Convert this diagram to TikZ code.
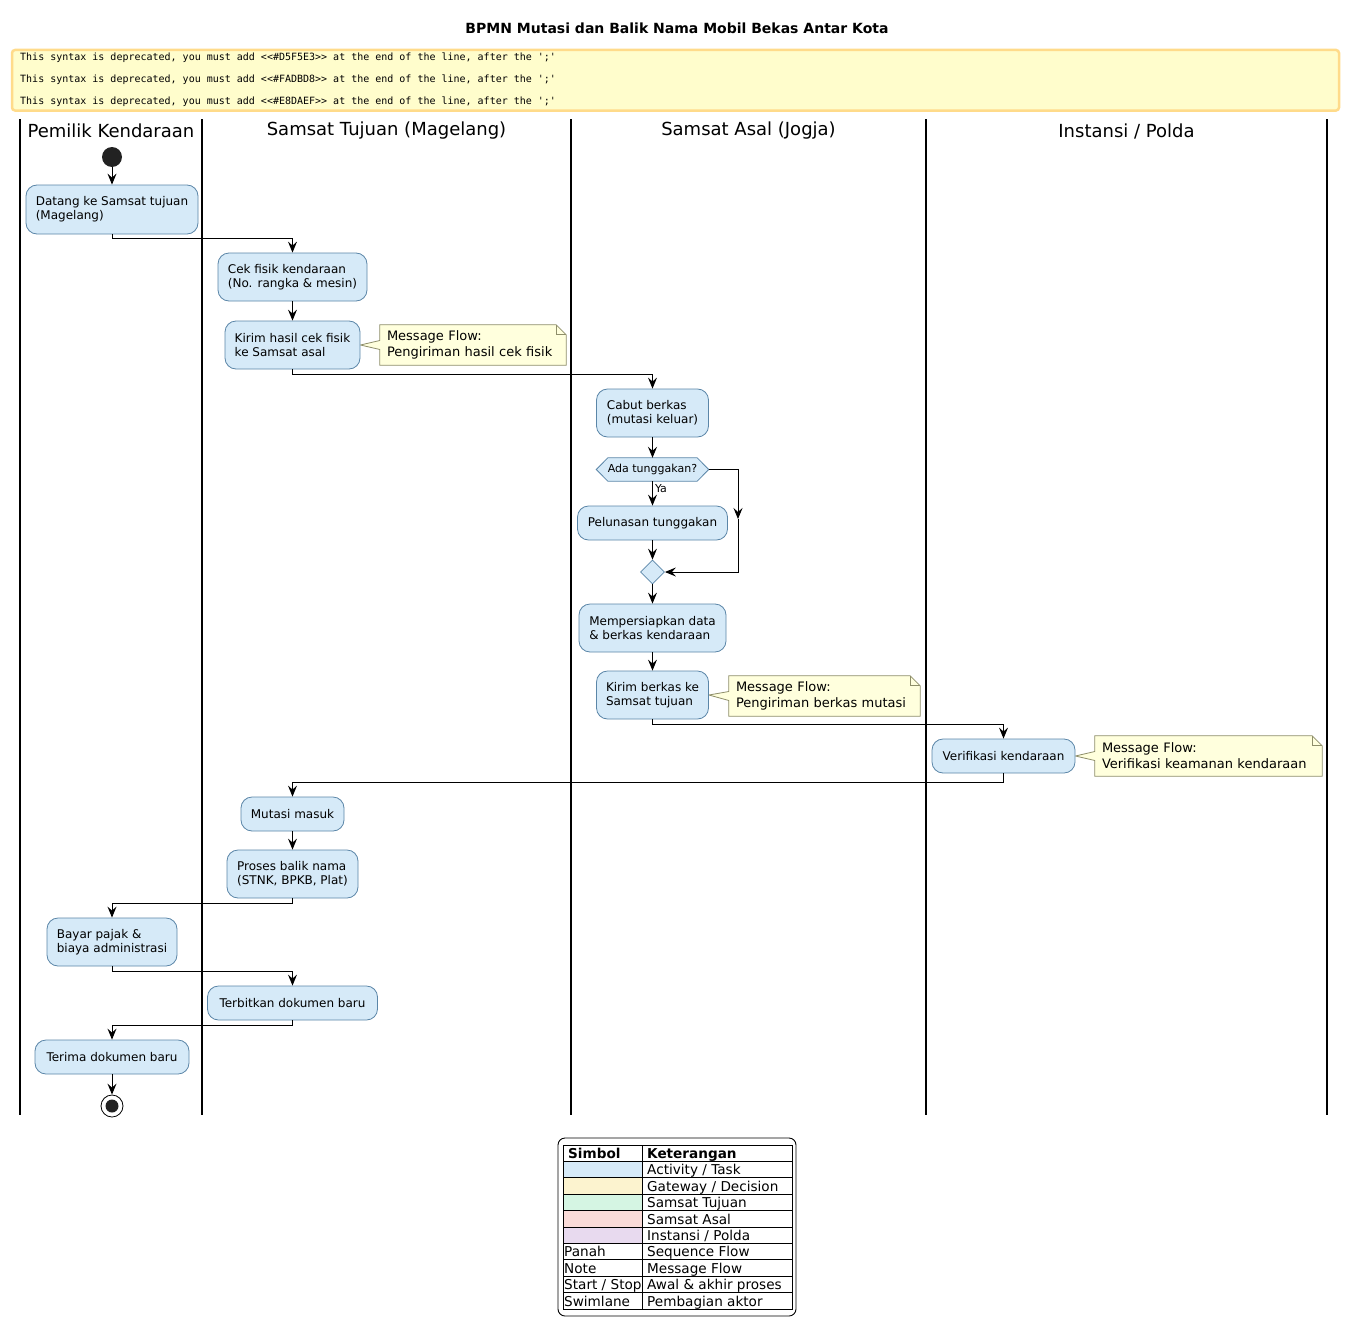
\documentclass[tikz,border=0pt]{standalone}
\usepackage{fontspec}
\setmainfont{DejaVu Sans}
\setmonofont{DejaVu Sans Mono}
\usetikzlibrary{shapes.geometric,arrows.meta,calc,backgrounds}
\definecolor{actfill}{HTML}{D6EAF8}
\definecolor{actdraw}{HTML}{5B86A8}
\definecolor{notefill}{HTML}{FFFFDD}
\definecolor{notedraw}{HTML}{8E8E6A}
\definecolor{warnfill}{HTML}{FFFDCC}
\definecolor{warndraw}{HTML}{FFDB8A}
\definecolor{legA}{HTML}{D6EAF8}
\definecolor{legB}{HTML}{FCF3CF}
\definecolor{legC}{HTML}{D5F5E3}
\definecolor{legD}{HTML}{FADBD8}
\definecolor{legE}{HTML}{E8DAEF}
\definecolor{startfill}{HTML}{222222}
\tikzset{
  act/.style={draw=actdraw, fill=actfill, rounded corners=11pt, line width=0.8pt, align=left, inner sep=0pt, font=\fontsize{12}{14}\selectfont},
  notebox/.style={inner sep=0pt, align=left, font=\fontsize{13}{16}\selectfont},
  noteline/.style={draw=notedraw, fill=notefill, line width=0.8pt},
  flow/.style={draw=black, line width=1pt, -{Stealth[length=11pt,width=9pt,inset=4pt]}},
  lane/.style={draw=black, line width=1.5pt},
  lanehead/.style={font=\fontsize{18}{22}\selectfont, inner sep=0pt},
  warn/.style={font=\ttfamily\fontsize{10}{12}\selectfont, inner sep=0pt, anchor=base west},
  leg/.style={font=\fontsize{13.6}{15}\selectfont, inner sep=0pt, anchor=base west},
}
\begin{document}
\begin{tikzpicture}[x=1pt,y=-1pt]
\useasboundingbox (0,0) rectangle (1355,1338);

% title
\node[font=\fontsize{14}{17}\selectfont\bfseries, inner sep=0pt] (title) at (677,28) {BPMN Mutasi dan Balik Nama Mobil Bekas Antar Kota};

% warning box
\draw[draw=warndraw, fill=warnfill, line width=2.5pt, rounded corners=3pt] (12,50) rectangle (1339,110.5);
\node[warn] (w1) at (20,61) {This syntax is deprecated, you must add <<\#D5F5E3>> at the end of the line, after the ';'};
\node[warn] (w2) at (20,83) {This syntax is deprecated, you must add <<\#FADBD8>> at the end of the line, after the ';'};
\node[warn] (w3) at (20,104.3) {This syntax is deprecated, you must add <<\#E8DAEF>> at the end of the line, after the ';'};

% lanes
\foreach \lx in {20,202,571,926,1327} \draw[lane] (\lx,119) -- (\lx,1115);
\node[lanehead] (h1) at (111,131) {Pemilik Kendaraan};
\node[lanehead] (h2) at (386.5,131) {Samsat Tujuan (Magelang)};
\node[lanehead] (h3) at (748.5,131) {Samsat Asal (Jogja)};
\node[lanehead] (h4) at (1126.5,131) {Instansi / Polda};

% start
\node[circle, fill=startfill, minimum size=20pt, inner sep=0pt] (start) at (112,157) {};

% activities
\node[act, minimum width=172pt, minimum height=49pt] (b1) at (112,209.5) {Datang ke Samsat tujuan\\(Magelang)};
\node[act, minimum width=149pt, minimum height=48pt] (b2) at (292.5,277) {Cek fisik kendaraan\\(No. rangka \& mesin)};
\node[act, minimum width=135pt, minimum height=48pt] (b3) at (292.5,345) {Kirim hasil cek fisik\\ke Samsat asal};
\node[act, minimum width=112pt, minimum height=48pt] (b4) at (652.5,413) {Cabut berkas\\(mutasi keluar)};
\node[inner sep=0pt, minimum width=112pt, minimum height=23pt, font=\fontsize{11}{13}\selectfont] (dec) at (652.5,469.5) {Ada tunggakan?};
\node[act, minimum width=150pt, minimum height=34pt] (b5) at (652.5,523) {Pelunasan tunggakan};
\node[diamond, draw=actdraw, fill=actfill, line width=0.8pt, minimum width=24pt, minimum height=24pt, inner sep=0pt] (merge) at (652.5,572) {};
\node[act, minimum width=147pt, minimum height=48pt] (b6) at (652.5,628) {Mempersiapkan data\\\& berkas kendaraan};
\node[act, minimum width=112pt, minimum height=48pt] (b7) at (652.5,695) {Kirim berkas ke\\Samsat tujuan};
\node[act, minimum width=143pt, minimum height=34pt] (b8) at (1003.5,756) {Verifikasi kendaraan};
\node[act, minimum width=103pt, minimum height=34pt] (b9) at (292.5,814) {Mutasi masuk};
\node[act, minimum width=131pt, minimum height=48pt] (b10) at (292.5,874) {Proses balik nama\\(STNK, BPKB, Plat)};
\node[act, minimum width=130pt, minimum height=48pt] (b11) at (112,942) {Bayar pajak \&\\biaya administrasi};
\node[act, minimum width=170pt, minimum height=34pt] (b12) at (292.5,1003) {Terbitkan dokumen baru};
\node[act, minimum width=154pt, minimum height=34pt] (b13) at (112,1057) {Terima dokumen baru};

% stop
\node[circle, draw=black, fill=white, line width=0.8pt, minimum size=22pt, inner sep=0pt] (stop) at (112,1106) {};
\node[circle, fill=startfill, minimum size=13pt, inner sep=0pt] (stopin) at (112,1106) {};

% notes
\node[notebox, text width=172pt, minimum height=40pt] (n1) at (473,345) {Message Flow:\\Pengiriman hasil cek fisik};
\node[notebox, text width=177pt, minimum height=40pt] (n2) at (824.5,696) {Message Flow:\\Pengiriman berkas mutasi};
\node[notebox, text width=213pt, minimum height=40pt] (n3) at (1208.5,756) {Message Flow:\\Verifikasi keamanan kendaraan};

\begin{scope}[on background layer]
  \fill[white] (0,0) rectangle (1355,1338);
  % hexagon
  \draw[draw=actdraw, fill=actfill, line width=0.8pt] (dec.west) -- ($(dec.north west)+(11.5,0)$) -- ($(dec.north east)+(-11.5,0)$) -- (dec.east) -- ($(dec.south east)+(-11.5,0)$) -- ($(dec.south west)+(11.5,0)$) -- cycle;
  % note outlines
  \foreach \n/\b in {n1/b3,n2/b7,n3/b8}{
    \path (\n.north west) ++(-7,0) coordinate (\n nw);
    \path (\n.south west) ++(-7,0) coordinate (\n sw);
    \path (\n.north east) ++(7,0) coordinate (\n ne);
    \path (\n.south east) ++(7,0) coordinate (\n se);
    \draw[noteline] (\n nw) -- ($(\n nw)!0.5!(\n sw)+(0,-4.5)$) -- (\b.east) -- ($(\n nw)!0.5!(\n sw)+(0,4.5)$) -- (\n sw) -- (\n se) -- ($(\n ne)+(0,10)$) -- ($(\n ne)+(-10,0)$) -- cycle;
    \draw[draw=notedraw, line width=0.8pt] ($(\n ne)+(-10,0)$) -- ($(\n ne)+(-10,10)$) -- ($(\n ne)+(0,10)$);
  }
\end{scope}

% flows
\draw[flow] (start) -- (b1.north);
\draw[flow] (b1.south) -- ++(0,4) -| (b2.north);
\draw[flow] (b2.south) -- (b3.north);
\draw[flow] (b3.south) -- ++(0,5) -| (b4.north);
\draw[flow] (b4.south) -- (dec.north);
\draw[flow] (dec.south) -- (b5.north) node[pos=0.3, right=2pt, font=\fontsize{11}{13}\selectfont, inner sep=0pt] (ya) {Ya};
\coordinate (br1) at (738,469.5);
\coordinate (br2) at (738,519);
\coordinate (br3) at (738,572);
\draw[flow] (dec.east) -- (br1) -- (br2);
\draw[flow] (br2) -- (br3) -- (merge.east);
\draw[flow] (b5.south) -- (merge.north);
\draw[flow] (merge.south) -- (b6.north);
\draw[flow] (b6.south) -- (b7.north);
\draw[flow] (b7.south) -- ++(0,5) -| (b8.north);
\draw[flow] (b8.south) -- ++(0,9) -| (b9.north);
\draw[flow] (b9.south) -- (b10.north);
\draw[flow] (b10.south) -- ++(0,5) -| (b11.north);
\draw[flow] (b11.south) -- ++(0,5) -| (b12.north);
\draw[flow] (b12.south) -- ++(0,5) -| (b13.north);
\draw[flow] (b13.south) -- (stop.north);

% legend
\draw[black, line width=0.9pt, rounded corners=7pt] (558,1138) rectangle (796,1316);
\fill[legA] (563,1161.4) rectangle (642,1177.8);
\fill[legB] (563,1177.8) rectangle (642,1194.2);
\fill[legC] (563,1194.2) rectangle (642,1210.6);
\fill[legD] (563,1210.6) rectangle (642,1227.0);
\fill[legE] (563,1227.0) rectangle (642,1243.4);
\draw[black, line width=0.8pt] (563,1145) rectangle (792,1309);
\draw[black, line width=0.8pt] (642,1145) -- (642,1309);
\foreach \i in {1,...,9} \draw[black, line width=0.8pt] (563,{1145+16.4*\i}) -- (792,{1145+16.4*\i});
\node[leg, font=\fontsize{13.6}{15}\selectfont\bfseries] (lh1) at (568,1158.5) {Simbol};
\node[leg, font=\fontsize{13.6}{15}\selectfont\bfseries] (lh2) at (647,1158.5) {Keterangan};
\node[leg] (lk1) at (647,1174.9) {Activity / Task};
\node[leg] (lk2) at (647,1191.3) {Gateway / Decision};
\node[leg] (lk3) at (647,1207.7) {Samsat Tujuan};
\node[leg] (lk4) at (647,1224.1) {Samsat Asal};
\node[leg] (lk5) at (647,1240.5) {Instansi / Polda};
\node[leg] (lk6) at (647,1256.9) {Sequence Flow};
\node[leg] (lk7) at (647,1273.3) {Message Flow};
\node[leg] (lk8) at (647,1289.7) {Awal \& akhir proses};
\node[leg] (lk9) at (647,1306.1) {Pembagian aktor};
\node[leg] (ls6) at (564,1256.9) {Panah};
\node[leg] (ls7) at (564,1273.3) {Note};
\node[leg] (ls8) at (564,1289.7) {Start / Stop};
\node[leg] (ls9) at (564,1306.1) {Swimlane};
\end{tikzpicture}
\end{document}
